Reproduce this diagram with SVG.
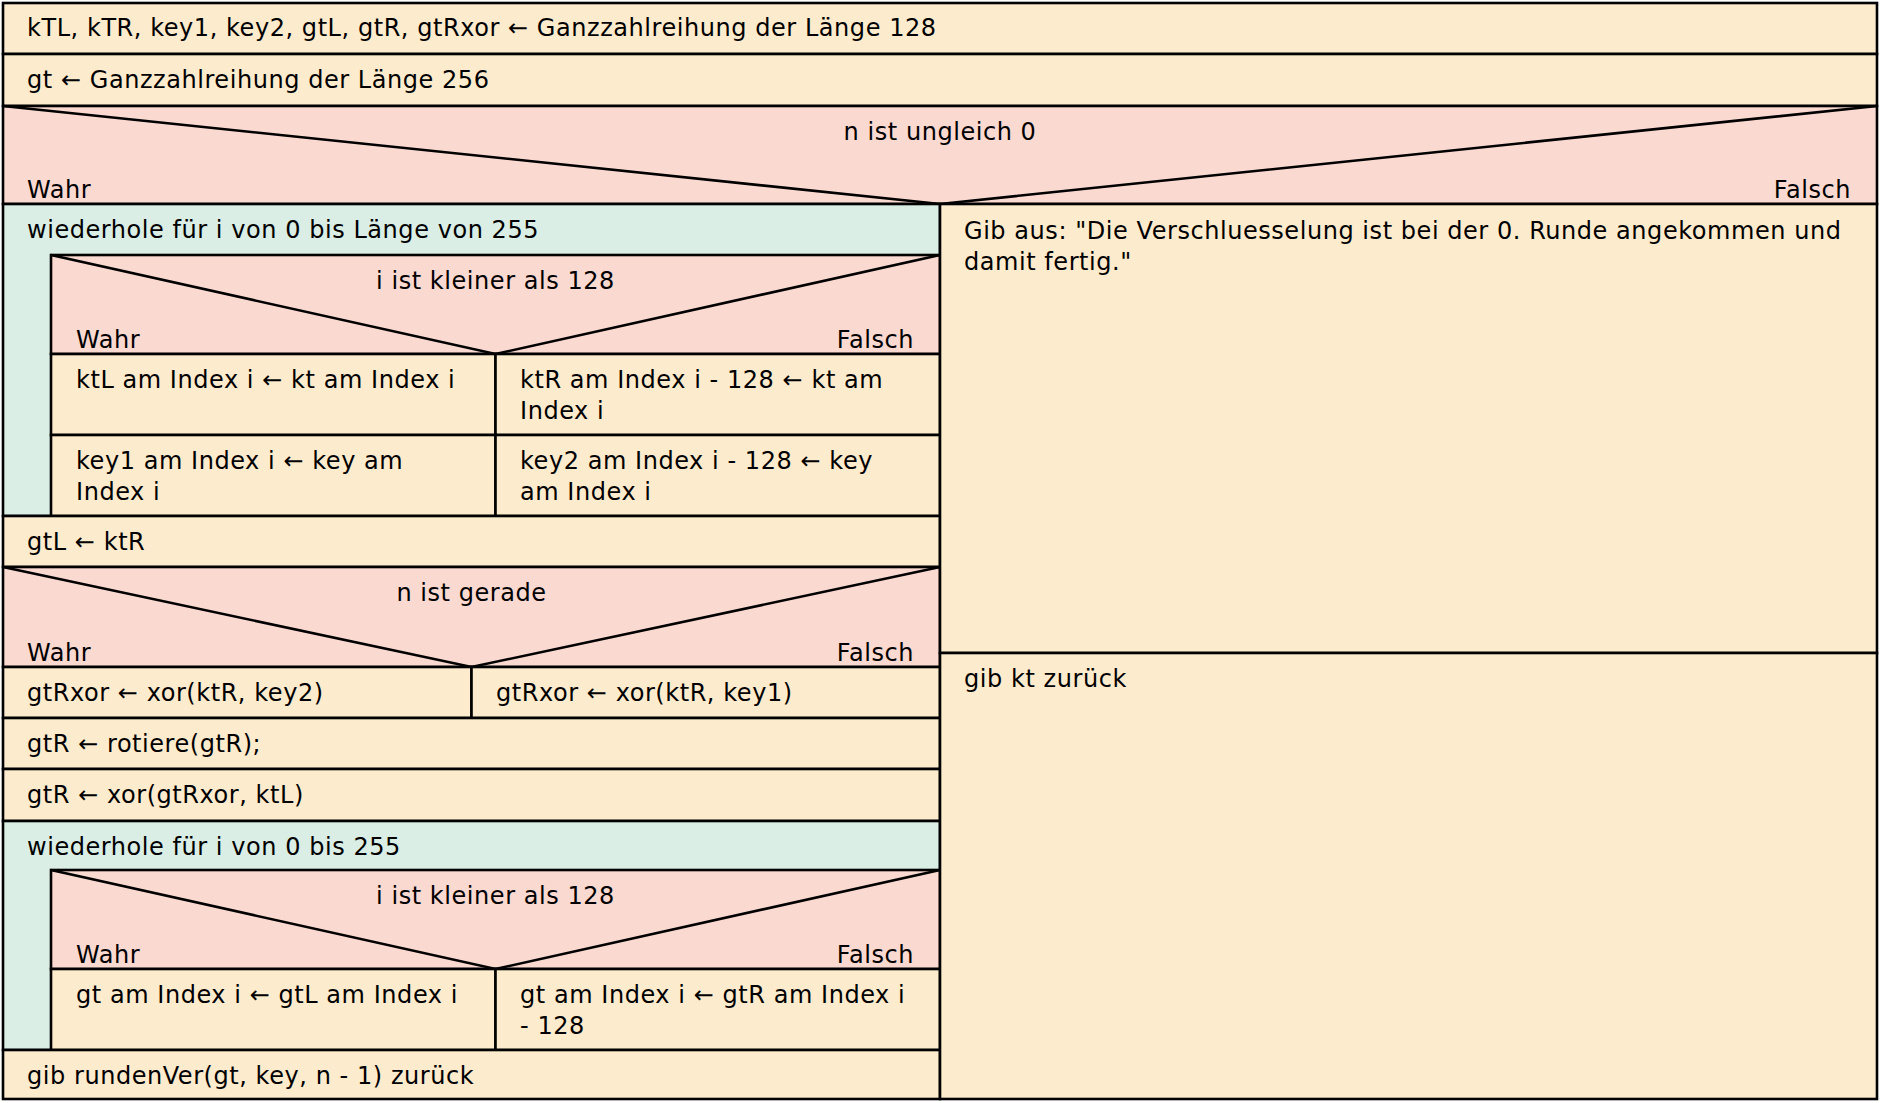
<svg xmlns="http://www.w3.org/2000/svg" width="1881" height="1103" viewBox="0 0 1881 1103">
<style>
.i{fill:#FDEBCD;stroke:#000;stroke-width:2.6}
.d{fill:#FAD9D0;stroke:#000;stroke-width:2.6}
.l{fill:#DAEEE6;stroke:#000;stroke-width:2.6}
.ln{fill:none;stroke:#000;stroke-width:2.6}
text{font-family:"DejaVu Sans","Liberation Sans",sans-serif;font-size:24px;letter-spacing:0.55px;fill:#000}
.c{text-anchor:middle}
.r{text-anchor:end}
</style>
<rect x="0" y="0" width="1881" height="1103" fill="#fff"/>
<g id="n1"><rect class="i" x="3" y="3" width="1874" height="51"/><text x="27" y="36">kTL, kTR, key1, key2, gtL, gtR, gtRxor ← Ganzzahlreihung der Länge 128</text></g>
<g id="n2"><rect class="i" x="3" y="54" width="1874" height="52"/><text x="27" y="88">gt ← Ganzzahlreihung der Länge 256</text></g>
<g id="dec1"><rect class="d" x="3" y="106" width="1874" height="98"/><polyline class="ln" points="3,106 940,204 1877,106"/><text class="c" x="940" y="140">n ist ungleich 0</text><text x="27" y="198">Wahr</text><text class="r" x="1851" y="198">Falsch</text></g>
<g id="loop1"><rect class="l" x="3" y="204" width="937" height="312"/><text x="27" y="238">wiederhole für i von 0 bis Länge von 255</text></g>
<g id="dec2"><rect class="d" x="51" y="255" width="889" height="99"/><polyline class="ln" points="51,255 495.5,354 940,255"/><text class="c" x="495.5" y="289">i ist kleiner als 128</text><text x="76" y="348">Wahr</text><text class="r" x="914" y="348">Falsch</text></g>
<g id="n3"><rect class="i" x="51" y="354" width="444.5" height="81"/><text x="76" y="388">ktL am Index i ← kt am Index i</text></g>
<g id="n4"><rect class="i" x="495.5" y="354" width="444.5" height="81"/><text x="520" y="388">ktR am Index i - 128 ← kt am</text><text x="520" y="419">Index i</text></g>
<g id="n5"><rect class="i" x="51" y="435" width="444.5" height="81"/><text x="76" y="469">key1 am Index i ← key am</text><text x="76" y="500">Index i</text></g>
<g id="n6"><rect class="i" x="495.5" y="435" width="444.5" height="81"/><text x="520" y="469">key2 am Index i - 128 ← key</text><text x="520" y="500">am Index i</text></g>
<g id="n7"><rect class="i" x="3" y="516" width="937" height="51"/><text x="27" y="550">gtL ← ktR</text></g>
<g id="dec3"><rect class="d" x="3" y="567" width="937" height="100"/><polyline class="ln" points="3,567 471.5,667 940,567"/><text class="c" x="471.5" y="601">n ist gerade</text><text x="27" y="661">Wahr</text><text class="r" x="914" y="661">Falsch</text></g>
<g id="n8"><rect class="i" x="3" y="667" width="468.5" height="51"/><text x="27" y="701">gtRxor ← xor(ktR, key2)</text></g>
<g id="n9"><rect class="i" x="471.5" y="667" width="468.5" height="51"/><text x="496" y="701">gtRxor ← xor(ktR, key1)</text></g>
<g id="n10"><rect class="i" x="3" y="718" width="937" height="51"/><text x="27" y="752">gtR ← rotiere(gtR);</text></g>
<g id="n11"><rect class="i" x="3" y="769" width="937" height="52"/><text x="27" y="803">gtR ← xor(gtRxor, ktL)</text></g>
<g id="loop2"><rect class="l" x="3" y="821" width="937" height="229"/><text x="27" y="855">wiederhole für i von 0 bis 255</text></g>
<g id="dec4"><rect class="d" x="51" y="870" width="889" height="99"/><polyline class="ln" points="51,870 495.5,969 940,870"/><text class="c" x="495.5" y="904">i ist kleiner als 128</text><text x="76" y="963">Wahr</text><text class="r" x="914" y="963">Falsch</text></g>
<g id="n12"><rect class="i" x="51" y="969" width="444.5" height="81"/><text x="76" y="1003">gt am Index i ← gtL am Index i</text></g>
<g id="n13"><rect class="i" x="495.5" y="969" width="444.5" height="81"/><text x="520" y="1003">gt am Index i ← gtR am Index i</text><text x="520" y="1034">- 128</text></g>
<g id="n14"><rect class="i" x="3" y="1050" width="937" height="49"/><text x="27" y="1084">gib rundenVer(gt, key, n - 1) zurück</text></g>
<g id="n15"><rect class="i" x="940" y="204" width="937" height="449"/><text x="964" y="239">Gib aus: "Die Verschluesselung ist bei der 0. Runde angekommen und</text><text x="964" y="270">damit fertig."</text></g>
<g id="n16"><rect class="i" x="940" y="653" width="937" height="446"/><text x="964" y="687">gib kt zurück</text></g>
<g id="connectors"></g>
</svg>
